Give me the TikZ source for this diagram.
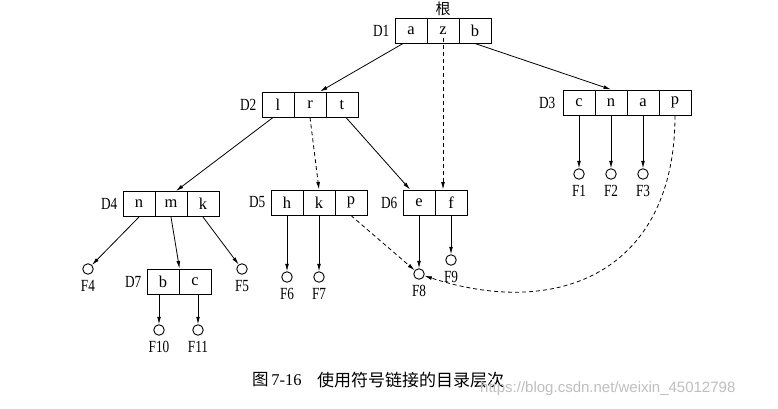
\documentclass[tikz,border=0pt]{standalone}
\usepackage{fontspec}
\setmainfont{Liberation Serif}
\newfontfamily\lblfont{Liberation Serif}[FakeStretch=0.78]
\newfontfamily\cjkfont{Noto Sans CJK SC}
\newfontfamily\wmfont{Liberation Sans}
\usetikzlibrary{arrows.meta}
\begin{document}
\begin{tikzpicture}[x=1pt,y=-1pt,
  cell/.style={draw, line width=1pt, minimum width=32pt, minimum height=25pt, inner sep=0pt, font=\fontsize{16.5}{16.5}\selectfont},
  leaf/.style={draw, circle, line width=0.9pt, minimum size=10.5pt, inner sep=0pt},
  lbl/.style={inner sep=0pt, font=\lblfont\fontsize{17}{17}\selectfont},
  arr/.style={line width=0.8pt, -{Latex[length=7.5pt,width=3.8pt]}},
  dsh/.style={arr, dash pattern=on 4pt off 3pt},
]
\useasboundingbox[fill=white] (0,0) rectangle (778,408);

% cells
\node[cell] (D1a) at (411,30.5) {a};
\node[cell] (D1z) at (443,30.5) {z};
\node[cell] (D1b) at (475,30.5) {b};
\node[cell] (D2l) at (278,104.5) {l};
\node[cell] (D2r) at (310,104.5) {r};
\node[cell] (D2t) at (342,104.5) {t};
\node[cell] (D3c) at (579,102.5) {c};
\node[cell] (D3n) at (611,102.5) {n};
\node[cell] (D3a) at (643,102.5) {a};
\node[cell] (D3p) at (675,102.5) {p};
\node[cell] (D4n) at (139,204) {n};
\node[cell] (D4m) at (171,204) {m};
\node[cell] (D4k) at (203,204) {k};
\node[cell] (D5h) at (287,202.5) {h};
\node[cell] (D5k) at (319,202.5) {k};
\node[cell] (D5p) at (351,202.5) {p};
\node[cell] (D6e) at (419,202.5) {e};
\node[cell] (D6f) at (451,202.5) {f};
\node[cell] (D7b) at (163,281.5) {b};
\node[cell] (D7c) at (195,281.5) {c};

% directory labels
\node[lbl, anchor=east] (lD1) at ([xshift=-5pt]D1a.west) {D1};
\node[lbl, anchor=east] (lD2) at ([xshift=-5pt]D2l.west) {D2};
\node[lbl, anchor=east] (lD3) at ([xshift=-7pt]D3c.west) {D3};
\node[lbl, anchor=east] (lD4) at ([xshift=-5pt]D4n.west) {D4};
\node[lbl, anchor=east] (lD5) at ([xshift=-5pt]D5h.west) {D5};
\node[lbl, anchor=east] (lD6) at ([xshift=-5pt]D6e.west) {D6};
\node[lbl, anchor=east] (lD7) at ([xshift=-5pt]D7b.west) {D7};
\node[inner sep=0pt, font=\cjkfont\fontsize{15}{15}\selectfont] (root) at (443,9) {根};

% leaves
\node[leaf] (F1) at (579,174) {};
\node[leaf] (F2) at (611,174) {};
\node[leaf] (F3) at (643,174) {};
\node[leaf] (F4) at (88,269) {};
\node[leaf] (F5) at (242,269) {};
\node[leaf] (F6) at (287,277) {};
\node[leaf] (F7) at (319,277) {};
\node[leaf] (F8) at (419,274) {};
\node[leaf] (F9) at (451,260) {};
\node[leaf] (F10) at (159,330) {};
\node[leaf] (F11) at (198,330) {};

\foreach \f in {F1,F2,F3,F4,F5,F6,F7,F8,F9,F10,F11}
  \node[lbl, anchor=north, yshift=-5pt] (t\f) at (\f.south) {\f};

% connectors
\draw[arr] ([xshift=-8pt]D1a.south) -- ([xshift=10pt]D2r.north);
\draw[arr] (D1b.south) -- (D3n.north);
\draw[dsh] ([yshift=-7pt]D1z.center) -- (D6f.north -| D1z);
\draw[arr] ([xshift=-5pt]D2l.south) -- ([xshift=5pt]D4m.north);
\draw[dsh] (D2r.south) -- (D5k.north);
\draw[arr] ([xshift=4pt]D2t.south) -- ([xshift=-9pt]D6e.north);
\draw[arr] (D3c.south) -- (F1);
\draw[arr] (D3n.south) -- (F2);
\draw[arr] (D3a.south) -- (F3);
\draw[dsh] (D3p.south) .. controls (675,270) and (560,320) .. (F8);
\draw[arr] (D4n.south) -- (F4);
\draw[arr] (D4m.south) -- (D7b.north east);
\draw[arr] (D4k.south) -- (F5);
\draw[arr] (D5h.south) -- (F6);
\draw[arr] (D5k.south) -- (F7);
\draw[dsh] (D5p.south) -- (F8);
\draw[arr] (D6e.south) -- (F8);
\draw[arr] (D6f.south) -- (F9);
\draw[arr] (F10 |- D7b.south) -- (F10);
\draw[arr] (F11 |- D7c.south) -- (F11);

% caption
\node[anchor=west, inner sep=0pt, font=\fontsize{16.5}{16.5}\selectfont] (cap1) at (252,380) {{\cjkfont 图}\,7-16};
\node[anchor=west, inner sep=0pt, font=\cjkfont\fontsize{17}{17}\selectfont] (cap2) at (317,380) {使用符号链接的目录层次};
\node[anchor=west, inner sep=0pt, text=black!25, font=\wmfont\fontsize{15}{15}\selectfont] (wm) at (480,389) {https://blog.csdn.net/weixin\_45012798};
\end{tikzpicture}
\end{document}
